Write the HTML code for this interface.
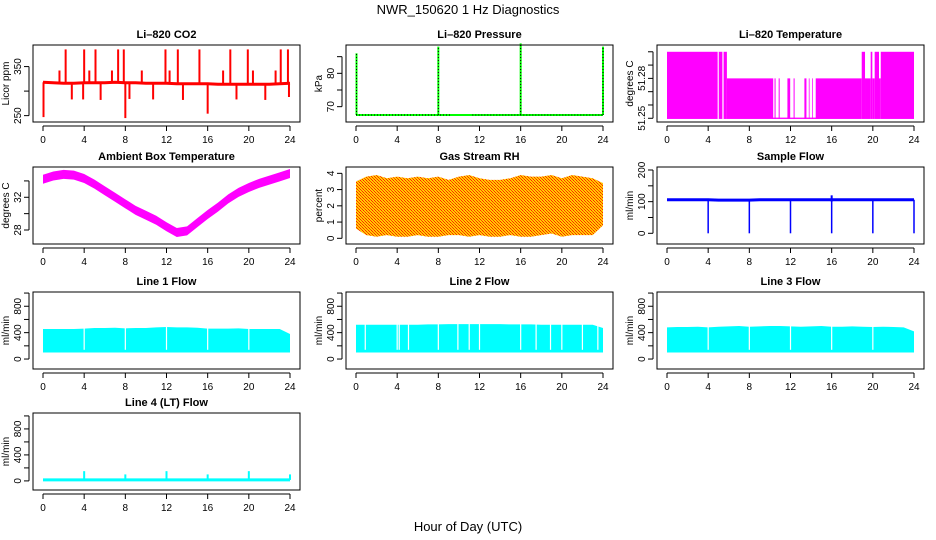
<!DOCTYPE html>
<html><head><meta charset="utf-8"><title>NWR_150620 1 Hz Diagnostics</title>
<style>
body{margin:0;background:#fff;}
svg{display:block;font-family:"Liberation Sans",sans-serif;}
</style></head>
<body>
<svg id="chart" width="936" height="540" xmlns="http://www.w3.org/2000/svg">
<defs>
<pattern id="rhpat" width="3" height="3" patternUnits="userSpaceOnUse">
<rect width="3" height="3" fill="#ffcc00"/><rect width="1" height="1" fill="#ff2200"/><rect x="1" y="1" width="1" height="1" fill="#ff4400"/><rect x="2" y="2" width="1" height="1" fill="#ff2200"/>
</pattern>
</defs>
<text x="468" y="14" text-anchor="middle" font-size="13">NWR_150620  1 Hz Diagnostics</text>
<text x="468" y="531" text-anchor="middle" font-size="13">Hour of Day (UTC)</text>
</svg>
<script>
// ---- data ----
const xTicks = [0,4,8,12,16,20,24];
// CO2
const co2Hours = [0,1,2,3,4,5,6,7,8,9,10,11,12,13,14,15,16,17,18,19,20,21,22,23,24];
const co2Base = [318,317,316,316,317,317,317,318,317,317,316,316,316,315,315,315,315,314,314,314,314,314,314,315,316];
const co2SpikeHours = [2.2,4.0,5.1,7.3,7.85,11.9,13.1,15.2,18.2,19.9,23.1,23.8,1.6,4.5,6.7,9.6,12.3,17.5,20.4,22.6,2.8,3.9,5.6,8.4,10.7,13.6,18.8,21.6,23.9,0.05,8.0,16.0];
const co2SpikeValues = [385,385,385,385,385,385,385,385,385,385,385,385,342,342,342,342,342,342,342,342,283,283,282,284,283,282,283,282,288,247,245,254];
// Pressure
const presBase = 67.5;
const presSpikeHours = [0.05,8.0,16.0,24.0];
const presSpikeValues = [86,88,89,88];
// Li-820 temperature segments
const tempStart = [0,5.03,5.5,5.82,10.45,10.85,11.7,12.3,13.35,13.78,14.1,14.45,18.92,19.24,19.79,19.95,20.18,20.6,20.77];
const tempEnd   = [4.92,5.38,5.82,10.32,10.55,10.95,11.97,12.4,13.55,13.85,14.17,18.92,19.24,19.79,19.95,20.18,20.6,20.77,24];
const tempLevel = [51.30,51.30,51.30,51.28,51.28,51.28,51.28,51.28,51.28,51.28,51.28,51.28,51.30,51.28,51.30,51.28,51.30,51.28,51.30];
// Ambient box temperature (hourly center)
const ambHours = [0,1,2,3,4,5,6,7,8,9,10,11,12,13,14,15,16,17,18,19,20,21,22,23,24];
const ambTemp = [34.2,34.6,34.8,34.7,34.3,33.6,32.8,32.0,31.2,30.4,29.8,29.2,28.4,27.7,27.9,28.9,29.9,30.8,31.8,32.6,33.2,33.7,34.1,34.5,34.9];
// Gas stream RH (hourly envelope)
const rhUpper = [3.5,3.8,3.9,3.7,3.8,3.7,3.8,3.7,3.8,3.6,3.8,3.9,3.7,3.6,3.6,3.7,3.9,3.8,3.8,3.9,3.7,3.9,3.8,3.7,3.4];
const rhLower = [0.6,0.2,0.1,0.2,0.1,0.1,0.2,0.1,0.1,0.2,0.2,0.1,0.2,0.1,0.1,0.2,0.1,0.1,0.2,0.3,0.1,0.2,0.2,0.2,0.8];
// Sample flow
const sfBase = [106,106,106,106,106,105,105,105,105,106,106,106,106,106,106,106,106,106,106,106,106,106,106,106,106];
const sfDipHours = [4,8,12,16,20,24];
const sfDipValues = [0,0,0,0,0,0];
// Line flows (hourly upper envelope; lower ~100)
const l1Upper = [455,455,455,455,460,470,470,475,465,470,470,480,485,480,480,475,460,460,460,465,455,455,455,455,380];
const l2Upper = [520,520,520,520,520,520,520,525,525,530,530,530,530,530,530,525,525,525,520,520,520,520,520,520,470];
const l3Upper = [480,485,485,490,480,490,495,500,490,495,500,500,495,490,495,500,490,490,495,490,485,490,485,480,420];
const lineLower = [100,100,100,100,100,100,100,100,100,100,100,100,100,100,100,100,100,100,100,100,100,100,100,100,100];
const l1Gaps = [4,8,12,16,20];
const l2Gaps = [0.9,4.0,4.2,5.1,8.0,9.9,11.0,12.0,16.0,17.5,18.9,20.0,22.0,23.5];
const l3Gaps = [4,8,12,16,20];
// Line 4
const l4Base = 15;
const l4SpikeHours = [4,8,12,16,20,24];
const l4SpikeValues = [150,100,150,100,150,100];

// ---- layout ----
const svg = document.getElementById('chart');
const NS = 'http://www.w3.org/2000/svg';
const colLeft = [33,346,657], rowTop = [45,167,292,413], BW = 267, BH = 77;
function mk(tag, attrs, parent){
  const e = document.createElementNS(NS, tag);
  for (const k in attrs) e.setAttribute(k, attrs[k]);
  (parent||svg).appendChild(e);
  return e;
}
function panel(name, col, row, title, ylab, ymin, ymax, ticks, labels){
  const L = colLeft[col], T = rowTop[row];
  const g = mk('g', {});
  
  
  const xs = h => L + 10 + h * (247 / 24);
  const ys = v => T + BH - (v - ymin) / (ymax - ymin) * BH;
  const plot = mk('g', {}, g);
  
  
  const frame = mk('rect', {x:L, y:T, width:BW, height:BH, fill:'none', stroke:'#000', 'stroke-width':1}, g);
  
  
  const tt = mk('text', {x:L + BW/2, y:T - 7, 'text-anchor':'middle', 'font-size':11, 'font-weight':'bold'}, g);
  tt.textContent = title;
  
  
  const xa = mk('g', {}, g);
  
  
  mk('line', {x1:xs(0), x2:xs(24), y1:T+BH+4, y2:T+BH+4, stroke:'#000'}, xa);
  xTicks.forEach(t => {
    mk('line', {x1:xs(t), x2:xs(t), y1:T+BH+4, y2:T+BH+9, stroke:'#000'}, xa);
    const lb = mk('text', {x:xs(t), y:T+BH+21, 'text-anchor':'middle', 'font-size':10}, xa);
    lb.textContent = t;
  });
  const ya = mk('g', {}, g);
  
  
  mk('line', {x1:L-4, x2:L-4, y1:ys(ticks[0]), y2:ys(ticks[ticks.length-1]), stroke:'#000'}, ya);
  ticks.forEach((t,i) => {
    mk('line', {x1:L-9, x2:L-4, y1:ys(t), y2:ys(t), stroke:'#000'}, ya);
    if (labels[i] !== '') {
      const lb = mk('text', {x:L-12, y:ys(t), 'text-anchor':'middle', 'font-size':10, transform:`rotate(-90 ${L-12} ${ys(t)})`}, ya);
      lb.textContent = labels[i];
    }
  });
  const yl = mk('text', {x:L-24, y:T+BH/2, 'text-anchor':'middle', 'font-size':10, transform:`rotate(-90 ${L-24} ${T+BH/2})`}, g);
  yl.textContent = ylab;
  
  
  return {xs, ys, plot};
}
function band(p, hours, up, lo, fill){
  let d = hours.map((h,i)=>`${i?'L':'M'}${p.xs(h)},${p.ys(up[i])}`).join(' ');
  for (let i = hours.length-1; i>=0; i--) d += ` L${p.xs(hours[i])},${p.ys(lo[i])}`;
  return mk('path', {d: d + ' Z', fill: fill}, p.plot);
}
function line(p, hours, vals, color, w){
  const d = hours.map((h,i)=>`${i?'L':'M'}${p.xs(h)},${p.ys(vals[i])}`).join(' ');
  return mk('path', {d, fill:'none', stroke:color, 'stroke-width':w}, p.plot);
}
function vseg(p, h, v0, v1, color, w, dash){
  const a = {x1:p.xs(h), x2:p.xs(h), y1:p.ys(v0), y2:p.ys(v1), stroke:color, 'stroke-width':w};
  if (dash) a['stroke-dasharray'] = dash;
  return mk('line', a, p.plot);
}

// CO2
let p = panel('co2', 0, 0, 'Li\u2013820 CO2', 'Licor ppm', 237, 394, [250,300,350], ['250','','350']);
line(p, co2Hours, co2Base, '#ff0000', 3);
co2SpikeHours.forEach((h,i)=>{
  const bi = Math.min(24, Math.max(0, Math.round(h)));
  vseg(p, h, co2Base[bi], co2SpikeValues[i], '#ff0000', 2);
});
// Pressure
p = panel('pressure', 1, 0, 'Li\u2013820 Pressure', 'kPa', 65.4, 88.5, [70,75,80,85], ['70','','80','']);
mk('line', {x1:p.xs(0), x2:p.xs(24), y1:p.ys(presBase), y2:p.ys(presBase), stroke:'#00ff00', 'stroke-width':2}, p.plot);
mk('line', {x1:p.xs(0), x2:p.xs(9.3), y1:p.ys(presBase), y2:p.ys(presBase), stroke:'#000', 'stroke-width':1, 'stroke-dasharray':'1,2'}, p.plot);
mk('line', {x1:p.xs(11.3), x2:p.xs(24), y1:p.ys(presBase), y2:p.ys(presBase), stroke:'#000', 'stroke-width':1, 'stroke-dasharray':'1,2'}, p.plot);
presSpikeHours.forEach((h,i)=>{
  vseg(p, h, presBase, presSpikeValues[i], '#00ff00', 2);
  vseg(p, h, presBase, presSpikeValues[i], '#000', 1, '1,2');
});
// Li-820 temperature
p = panel('li820-temp', 2, 0, 'Li\u2013820 Temperature', 'degrees C', 51.2472, 51.3051, [51.25,51.26,51.27,51.28,51.29,51.30], ['51.25','','','51.28','','']);
mk('rect', {x:p.xs(10.2), y:p.ys(51.2505), width:p.xs(14.8)-p.xs(10.2), height:p.ys(51.2495)-p.ys(51.2505), fill:'#ff00ff'}, p.plot);
tempStart.forEach((s,i)=>{
  mk('rect', {x:p.xs(s), y:p.ys(tempLevel[i]), width:p.xs(tempEnd[i])-p.xs(s), height:p.ys(51.2495)-p.ys(tempLevel[i]), fill:'#ff00ff'}, p.plot);
});
// Ambient
p = panel('ambient-temp', 0, 1, 'Ambient Box Temperature', 'degrees C', 26.29, 35.7, [28,30,32,34], ['28','','32','']);
band(p, ambHours, ambTemp.map(v=>v+0.55), ambTemp.map(v=>v-0.55), '#ff00ff');
// RH
p = panel('gas-rh', 1, 1, 'Gas Stream RH', 'percent', -0.35, 4.39, [0,1,2,3,4], ['0','1','2','3','4']);
band(p, ambHours, rhUpper, rhLower, 'url(#rhpat)');
// Sample flow
p = panel('sample-flow', 2, 1, 'Sample Flow', 'ml/min', -33.8, 209.5, [0,50,100,150,200], ['0','','100','','200']);
line(p, ambHours, sfBase, '#0000ff', 3);
sfDipHours.forEach((h,i)=> vseg(p, h, sfBase[h], sfDipValues[i], '#0000ff', 1.5));
vseg(p, 16, 100, 120, '#0000ff', 2);
// Line flows
const flowTicks = [0,200,400,600,800,1000], flowLabels = ['0','','400','','800',''];
function flowPanel(name, col, row, title, up, gaps){
  const q = panel(name, col, row, title, 'ml/min', -151, 1016, flowTicks, flowLabels);
  band(q, ambHours, up, lineLower, '#00ffff');
  gaps.forEach(h => mk('line', {x1:q.xs(h), x2:q.xs(h), y1:q.ys(900), y2:q.ys(140), stroke:'#fff', 'stroke-width':1.2}, q.plot));
  return q;
}
flowPanel('line1-flow', 0, 2, 'Line 1 Flow', l1Upper, l1Gaps);
flowPanel('line2-flow', 1, 2, 'Line 2 Flow', l2Upper, l2Gaps);
flowPanel('line3-flow', 2, 2, 'Line 3 Flow', l3Upper, l3Gaps);
p = panel('line4-flow', 0, 3, 'Line 4 (LT) Flow', 'ml/min', -140, 1045, flowTicks, flowLabels);
mk('line', {x1:p.xs(0), x2:p.xs(24), y1:p.ys(l4Base), y2:p.ys(l4Base), stroke:'#00ffff', 'stroke-width':3}, p.plot);
l4SpikeHours.forEach((h,i)=> vseg(p, h, l4Base, l4SpikeValues[i], '#00ffff', 2));
</script>
</body></html>
